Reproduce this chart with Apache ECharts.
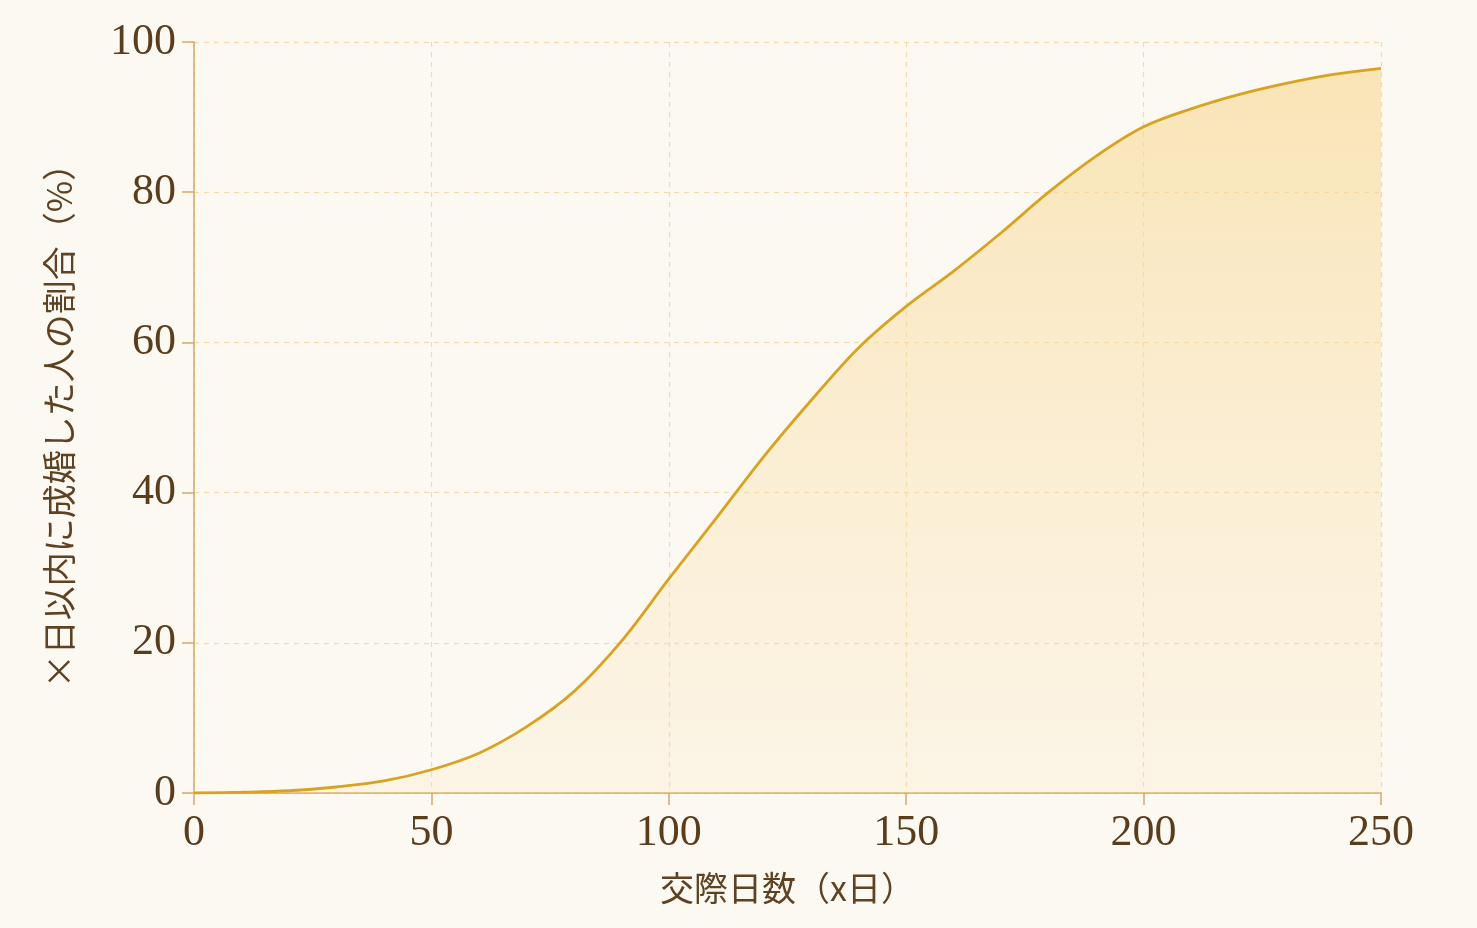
<!DOCTYPE html>
<html>
<head>
<meta charset="utf-8">
<script src="https://cdn.jsdelivr.net/npm/echarts@6/dist/echarts.min.js"></script>
<style>
  html, body { margin: 0; padding: 0; background: #fcf9f3; }
  #main { width: 1477px; height: 928px; }
</style>
</head>
<body>
<div id="main"></div>
<script>
// 交際日数（x日）
var days = [0, 10, 20, 30, 40, 50, 60, 70, 80, 90, 100, 110, 120, 130, 140, 150, 160, 170, 180, 190, 200, 210, 220, 230, 240, 250];
// x日以内に成婚した人の割合（%）
var rate = [0, 0.1, 0.3, 0.8, 1.6, 3.1, 5.3, 8.8, 13.5, 20.2, 28.5, 36.6, 44.8, 52.3, 59.3, 64.8, 69.5, 74.6, 80, 84.8, 88.7, 91.1, 93, 94.5, 95.7, 96.5];
var xTicks = [0, 50, 100, 150, 200, 250];
var yTicks = [0, 20, 40, 60, 80, 100];

var points = [];
for (var i = 0; i < days.length; i++) {
    points.push([days[i], rate[i]]);
}

var chart = echarts.init(document.getElementById('main'));
var tickFont = { fontFamily: 'Liberation Serif', fontSize: 44, color: '#5a3d1c' };
var nameFont = { fontFamily: 'Noto Sans CJK JP', fontSize: 34, color: '#5e4222' };
var axisColor = '#d2aa66';
var gridColor = '#f1dab0';

chart.setOption({
    backgroundColor: '#fcf9f3',
    animation: false,
    grid: { left: 194, right: 96, top: 42, bottom: 135 },
    xAxis: {
        type: 'value',
        min: 0, max: 250, interval: 50,
        name: '交際日数（x日）',
        nameLocation: 'middle',
        nameGap: 78,
        nameTextStyle: nameFont,
        axisLine: { lineStyle: { color: axisColor, width: 1.5 } },
        axisTick: { length: 12, lineStyle: { color: axisColor, width: 1.5 } },
        axisLabel: Object.assign({ margin: 18 }, tickFont),
        splitLine: { show: true, lineStyle: { color: gridColor, type: [5, 5], width: 1.2 } }
    },
    yAxis: {
        type: 'value',
        min: 0, max: 100, interval: 20,
        name: '×日以内に成婚した人の割合（%）',
        nameLocation: 'middle',
        nameGap: 118,
        nameTextStyle: nameFont,
        axisLine: { show: true, lineStyle: { color: axisColor, width: 1.5 } },
        axisTick: { show: true, length: 12, lineStyle: { color: axisColor, width: 1.5 } },
        axisLabel: Object.assign({ margin: 18 }, tickFont),
        splitLine: { show: true, lineStyle: { color: gridColor, type: [5, 5], width: 1.2 } }
    },
    series: [{
        type: 'line',
        data: points,
        smooth: 0.35,
        showSymbol: false,
        lineStyle: { color: '#d9a322', width: 2.8 },
        areaStyle: {
            color: new echarts.graphic.LinearGradient(0, 0, 0, 1, [
                { offset: 0, color: 'rgba(247, 214, 140, 0.85)' },
                { offset: 1, color: 'rgba(250, 226, 180, 0.3)' }
            ])
        }
    }]
});
</script>
</body>
</html>
